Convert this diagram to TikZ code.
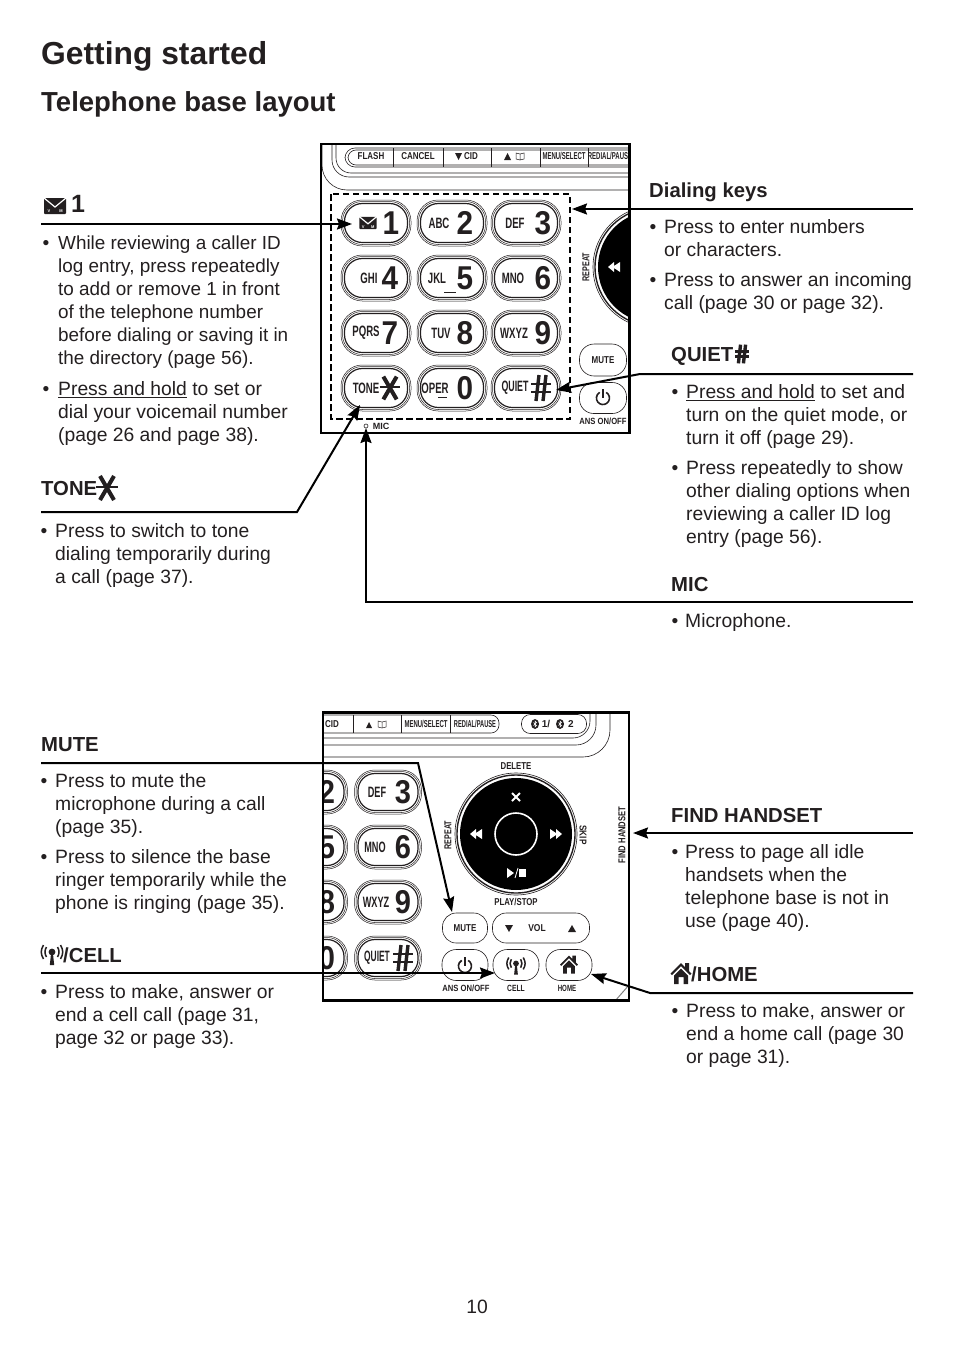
\documentclass[tikz,border=0pt]{standalone}
\usepackage{fontspec}
\usepackage{graphicx}
\setmainfont{Liberation Sans}
\usetikzlibrary{arrows.meta}
\definecolor{inkblack}{HTML}{231F20}
\newcommand{\cnd}[2][.8]{\scalebox{#1}[1]{#2}}
% three outlines of one button
\newcommand{\pillbtn}[5]{%
  \node[pill={#4}{#5}{.5}] (#1a) at (#2,#3) {};
  \node[pill={#4-3}{#5-3}{.5}] (#1b) at (#2,#3) {};
  \node[pill={#4-7}{#5-7}{1.2}] (#1c) at (#2,#3) {};
}
\tikzset{
  pill/.style n args={3}{draw=inkblack,line width=#3,inner sep=0,minimum width=#1,minimum height=#2,rounded corners=.46*(#2)},
  btn/.style n args={2}{draw=inkblack,line width=.6,inner sep=0,minimum width=#1,minimum height=#2,rounded corners=.46*(#2)},
  txt/.style={anchor=north west,inner sep=0,align=left,text=inkblack,font=\fontsize{19.3}{23}\selectfont},
  bul/.style={anchor=north west,inner sep=0,yshift=-1.5pt,text=inkblack,font=\fontsize{19.3}{23}\selectfont},
  head/.style={anchor=base west,inner sep=0,text=inkblack,font=\fontsize{20.3}{23}\bfseries\selectfont},
  lab/.style={inner sep=0,text=inkblack,font=\fontsize{10}{10}\bfseries\selectfont},
  tinylab/.style={inner sep=0,text=inkblack,font=\fontsize{9}{9}\bfseries\selectfont},
  smalltxt/.style={inner sep=0,text=inkblack,font=\fontsize{15}{15}\bfseries\selectfont},
  bigdigit/.style={inner sep=0,text=inkblack,font=\fontsize{33}{33}\bfseries\selectfont},
  callout/.style={draw=black,line width=2,-{Stealth[length=15,width=11,inset=2]}},
  frame/.style={draw=black,line width=2.6},
  thinline/.style={draw=inkblack,line width=.6},
  envpic/.pic={
    \fill[inkblack,rounded corners=1] (-11,-8) rectangle (11,8);
    \draw[white,line width=1.2] (-11,-8) -- (0,1) -- (11,-8);
    \node[inner sep=0,text=white,font=\fontsize{4}{4}\bfseries\selectfont] (envv) at (-6,5) {V};
    \node[inner sep=0,text=white,font=\fontsize{4}{4}\bfseries\selectfont] (envm) at (6,5) {M};
  },
  starpic/.pic={
    \draw[inkblack,line width=4] (-7,-12) -- (7,12);
    \draw[inkblack,line width=4] (7,-12) -- (-7,12);
    \draw[inkblack,line width=1.8] (-11,-1) -- (11,-1);
  },
  hashpic/.pic={
    \draw[inkblack,line width=3.4] (-2,-13) -- (-5,13);
    \draw[inkblack,line width=3.4] (5,-13) -- (2,13);
    \draw[inkblack,line width=2.8] (-10,-4) -- (10,-4);
    \draw[inkblack,line width=2.8] (-10,4) -- (10,4);
  },
  towerpic/.pic={
    \fill[inkblack] (0,-3) circle (3.4);
    \fill[inkblack] (-.9,-2) -- (.9,-2) -- (2.2,10) -- (-2.2,10) -- cycle;
    \draw[inkblack,line width=1.5] (-5.5,-8) .. controls (-7.5,-5) and (-7.5,-1) .. (-5.5,2);
    \draw[inkblack,line width=1.5] (5.5,-8) .. controls (7.5,-5) and (7.5,-1) .. (5.5,2);
    \draw[inkblack,line width=1.5] (-8.5,-10) .. controls (-11.5,-5) and (-11.5,-1) .. (-8.5,4);
    \draw[inkblack,line width=1.5] (8.5,-10) .. controls (11.5,-5) and (11.5,-1) .. (8.5,4);
  },
  housepic/.pic={
    \fill[inkblack] (-10.5,-.5) -- (0,-11) -- (4,-7) -- (4,-11) -- (8,-11) -- (8,-3) -- (10.5,-.5) -- (9,1) -- (0,-8) -- (-9,1) -- cycle;
    \fill[inkblack] (-7,1.5) -- (0,-5.5) -- (7,1.5) -- (7,10) -- (2.5,10) -- (2.5,3) -- (-2.5,3) -- (-2.5,10) -- (-7,10) -- cycle;
  },
  powerpic/.pic={
    \draw[inkblack,line width=1.6] (3.2,-5.6) arc (-60:240:6.5);
    \draw[inkblack,line width=1.8] (0,-9) -- (0,0);
  },
  bookpic/.pic={
    \draw[inkblack,line width=.5] (-4,-3) -- (0,-2) -- (4,-3) -- (4,3) -- (0,4) -- (-4,3) -- cycle (0,-2) -- (0,4);
  },
  discpic/.pic={
    \draw[inkblack,line width=.6] (0,0) circle (61);
    \draw[inkblack,line width=1.4] (0,0) circle (59);
    \fill[black] (0,0) circle (56);
    \draw[white,line width=1.6] (0,0) circle (21);
    \fill[white] (-46,0) -- (-40,-5) -- (-40,-1) -- (-34,-5) -- (-34,5) -- (-40,1) -- (-40,5) -- cycle;
    \fill[white] (46,0) -- (40,-5) -- (40,-1) -- (34,-5) -- (34,5) -- (40,1) -- (40,5) -- cycle;
    \draw[white,line width=1.8] (-4,-41) -- (4,-33) (4,-41) -- (-4,-33);
    \fill[white] (-9,34) -- (-2,39) -- (-9,44) -- cycle;
    \draw[white,line width=.8] (-1,44) -- (2,34);
    \fill[white] (3,35) rectangle (10,43);
  },
  btmark/.pic={
    \fill[inkblack] (0,0) circle (4 and 5);
    \draw[white,line width=.5] (-1.5,-1.5) -- (1.5,1.5) -- (0,3) -- (0,-3) -- (1.5,-1.5) -- (-1.5,1.5);
  },
}
\newcommand{\bulstrut}{\vphantom{P}}
\begin{document}
\begin{tikzpicture}[x=1pt,y=-1pt]
  \useasboundingbox (0,0) rectangle (954,1354);
  % titles
  \node[anchor=base west,inner sep=0,text=inkblack,font=\fontsize{31.8}{36}\bfseries\selectfont] (title) at (41,64) {Getting started};
  \node[anchor=base west,inner sep=0,text=inkblack,font=\fontsize{27.5}{30}\bfseries\selectfont] (subtitle) at (41,111) {Telephone base layout};
  \node[anchor=base,inner sep=0,text=inkblack,font=\fontsize{19.3}{23}\selectfont] (pageno) at (477,1313) {10};

  % upper photo
  \begin{scope}
    \clip (321,144) rectangle (630,434);
    % housing
    \draw[thinline,rounded corners=25] (322,140) -- (322,190) -- (640,190);
    \draw[thinline,rounded corners=17] (332,140) -- (332,177) -- (640,177);
    \draw[thinline,rounded corners=15] (336,140) -- (336,173) -- (640,173);
    \draw[thinline,rounded corners=10] (640,148) -- (345,148) -- (345,167) -- (640,167);
    \draw[thinline,rounded corners=8] (640,150) -- (348,150) -- (348,165) -- (640,165);
    \foreach \sx in {393,443,491,540,588}
      \draw[thinline] (\sx,148) -- (\sx,167);
    \node[lab] (lflash) at (371,156) {\cnd{FLASH}};
    \node[lab] (lcancel) at (418,156) {\cnd{CANCEL}};
    \fill[inkblack] (455,153) -- (462,153) -- (458.5,160) -- cycle;
    \node[lab] (lcid) at (471,156) {\cnd{CID}};
    \fill[inkblack] (504,160) -- (511,160) -- (507.5,153) -- cycle;
    \pic at (520,156) {bookpic};
    \node[lab] (lmenu) at (564,156) {\cnd[.6]{MENU/SELECT}};
    \node[lab] (lredial) at (610,156) {\cnd[.6]{REDIAL/PAUSE}};
    % disc
    \pic at (654,267) {discpic};
    \node[lab,rotate=90] (lrepeat) at (586,267) {\cnd[.72]{REPEAT}};
    % keypad
    \foreach \nm/\x/\y/\sm/\sx/\dg/\dx in {
      1/376/223/{}/0/1/15, 2/452/223/ABC/-13/2/13, 3/526/223/DEF/-11/3/17,
      4/376/278/GHI/-7/4/14, 5/452/278/JKL/-15/5/13, 6/526/278/MNO/-13/6/17,
      7/376/333/PQRS/-10/7/14, 8/452/333/TUV/-11/8/13, 9/526/333/WXYZ/-12/9/17,
      s/376/388/TONE/-10/{}/0, 0/452/388/OPER/-17/0/13, h/526/388/\cnd[.92]{QUIET}/-11/{}/0} {
      \pillbtn{key\nm}{\x}{\y}{70}{46}
      \node[smalltxt] (small\nm) at (\x+\sx,\y) {\cnd[.64]{\sm}};
      \node[bigdigit] (digit\nm) at (\x+\dx,\y) {\cnd[.9]{\dg}};
    }
    \pic[scale=.78] at (368,223) {envpic};
    \pic[scale=.95] at (390,388) {starpic};
    \pic at (541,388) {hashpic};
    \draw[thinline] (444,292) -- (456,292);
    \draw[thinline] (438,397) -- (447,397);
    % dashed outline
    \draw[black,line width=2.2,dash pattern=on 6.5pt off 3.5pt] (331,194) rectangle (570,419);
    % small buttons
    \node[btn={47}{32}] (tmute) at (603,360) {};
    \node[lab] (ltmute) at (603,360) {\cnd{MUTE}};
    \node[btn={47}{31}] (tpower) at (603,398) {};
    \pic at (603,398) {powerpic};
    \node[tinylab] (ltans) at (603,421) {\cnd[.85]{ANS ON/OFF}};
    \draw[thinline] (366,426) circle (2);
    \node[tinylab] (ltmic) at (381,426) {MIC};
  \end{scope}
  \draw[frame] (321,144) rectangle (629.5,433);

  % lower photo
  \begin{scope}
    \clip (323,712) rectangle (630,1001);
    \draw[thinline,rounded corners=17] (320,738) -- (590,738) -- (590,705);
    \draw[thinline,rounded corners=20] (320,745) -- (596,745) -- (596,705);
    \draw[thinline,rounded corners=27] (320,757) -- (610,757) -- (610,705);
    \draw[thinline,rounded corners=8] (320,715) -- (499,715) -- (499,733) -- (320,733);
    \foreach \sx in {353,401,450}
      \draw[thinline] (\sx,715) -- (\sx,733);
    \node[lab] (blcid) at (332,724) {\cnd{CID}};
    \fill[inkblack] (366,728) -- (372,728) -- (369,722) -- cycle;
    \pic at (382,724) {bookpic};
    \node[lab] (blmenu) at (426,724) {\cnd[.6]{MENU/SELECT}};
    \node[lab] (blredial) at (475,724) {\cnd[.57]{REDIAL/PAUSE}};
    \node[btn={65}{19}] (btpill) at (554,724) {};
    \pic at (535,724) {btmark};
    \node[lab] (bt1) at (546,724) {1/};
    \pic at (560,724) {btmark};
    \node[lab] (bt2) at (571,724) {2};
    % disc
    \pic at (516,834) {discpic};
    \node[lab] (ldelete) at (516,766) {\cnd[.78]{DELETE}};
    \node[lab,rotate=90] (lbrepeat) at (448,835) {\cnd[.72]{REPEAT}};
    \node[lab,rotate=-90] (lskip) at (583,835) {\cnd[.82]{SKIP}};
    \node[lab,rotate=90] (lfind) at (622,835) {\cnd[.76]{FIND HANDSET}};
    \node[lab] (lplay) at (516,902) {\cnd[.78]{PLAY/STOP}};
    % keypad
    \foreach \nm/\x/\y/\sm/\sx/\dg/\dx in {
      b2/314/792/ABC/-13/2/13, b3/388/792/DEF/-11/3/15,
      b5/314/847/JKL/-15/5/13, b6/388/847/MNO/-13/6/15,
      b8/314/902/TUV/-11/8/13, b9/388/902/WXYZ/-12/9/15,
      b0/314/958/OPER/-17/0/13, bh/388/958/\cnd[.92]{QUIET}/-11/{}/0} {
      \pillbtn{key\nm}{\x}{\y}{67}{44}
      \node[smalltxt] (small\nm) at (\x+\sx,\y) {\cnd[.61]{\sm}};
      \node[bigdigit] (digit\nm) at (\x+\dx,\y) {\cnd[.88]{\dg}};
    }
    \pic at (403,958) {hashpic};
    % small buttons
    \node[btn={45}{30}] (bmute) at (465,928) {};
    \node[lab] (lbmute) at (465,928) {\cnd{MUTE}};
    \node[btn={97}{30}] (bvol) at (541,928) {};
    \fill[inkblack] (505,925) -- (513,925) -- (509,932) -- cycle;
    \node[lab] (lvol) at (537,928) {\cnd[.85]{VOL}};
    \fill[inkblack] (568,932) -- (576,932) -- (572,925) -- cycle;
    \node[btn={46}{31}] (bpower) at (465,965) {};
    \pic at (465,966) {powerpic};
    \node[btn={46}{31}] (bcell) at (516,965) {};
    \pic[scale=.85] at (516,966) {towerpic};
    \node[btn={46}{31}] (bhome) at (569,965) {};
    \pic[scale=.85] at (569,965) {housepic};
    \node[tinylab] (lbans) at (466,988) {\cnd[.85]{ANS ON/OFF}};
    \node[tinylab] (lbcell) at (516,988) {\cnd[.75]{CELL}};
    \node[tinylab] (lbhome) at (567,988) {\cnd[.68]{HOME}};
    \draw[gray,line width=1] (615,1001) -- (629,985);
  \end{scope}
  \draw[frame] (323,712.5) rectangle (629,1000.5);

  % left column, upper
  \pic at (55,206) {envpic};
  \node[head,font=\fontsize{25}{25}\bfseries\selectfont] (hone) at (71,212) {1};
  \coordinate (oneA) at (41,224);
  \coordinate (oneB) at (352,224);
  \draw[callout] (oneA) -- (oneB);
  \node[bul] (b1) at (42.5,235) {\bulstrut•};
  \node[txt,font=\fontsize{18.9}{23}\selectfont] (t1) at (58,236) {While reviewing a caller ID\\log entry, press repeatedly\\to add or remove 1 in front\\of the telephone number\\before dialing or saving it in\\the directory (page 56).};
  \node[bul] (b2) at (42.5,381) {\bulstrut•};
  \node[txt] (t2) at (58,381) {\underline{Press and hold} to set or\\dial your voicemail number\\(page 26 and page 38).};

  \node[head] (htone) at (41,495) {TONE};
  \pic at (107,488) {starpic};
  \coordinate (toneA) at (41,512);
  \coordinate (toneB) at (297,512);
  \coordinate (toneC) at (360,405);
  \draw[callout] (toneA) -- (toneB) -- (toneC);
  \node[bul] (b3) at (40.5,523) {\bulstrut•};
  \node[txt] (t3) at (55,523) {Press to switch to tone\\dialing temporarily during\\a call (page 37).};

  % right column, upper
  \node[head] (hdial) at (649,197) {Dialing keys};
  \coordinate (dialA) at (913,209);
  \coordinate (dialB) at (572,209);
  \draw[callout] (dialA) -- (dialB);
  \node[bul] (b4) at (649.5,219) {\bulstrut•};
  \node[txt] (t4) at (664,219) {Press to enter numbers\\or characters.};
  \node[bul] (b5) at (649.5,272) {\bulstrut•};
  \node[txt] (t5) at (664,272) {Press to answer an incoming\\call (page 30 or page 32).};

  \node[head] (hquiet) at (671,361) {QUIET};
  \pic[scale=.72] at (742,354) {hashpic};
  \coordinate (quietA) at (913,374);
  \coordinate (quietB) at (640,374);
  \coordinate (quietC) at (556,390);
  \draw[callout] (quietA) -- (quietB) -- (quietC);
  \node[bul] (b6) at (671.5,384) {\bulstrut•};
  \node[txt] (t6) at (686,384) {\underline{Press and hold} to set and\\turn on the quiet mode, or\\turn it off (page 29).};
  \node[bul] (b7) at (671.5,460) {\bulstrut•};
  \node[txt] (t7) at (686,460) {Press repeatedly to show\\other dialing options when\\reviewing a caller ID log\\entry (page 56).};

  \node[head] (hmic) at (671,591) {MIC};
  \coordinate (micA) at (913,602);
  \coordinate (micB) at (366,602);
  \coordinate (micC) at (366,428);
  \draw[callout] (micA) -- (micB) -- (micC);
  \node[bul] (b8) at (671.5,613) {\bulstrut•};
  \node[txt] (t8) at (685,613) {Microphone.};

  % left column, lower
  \node[head] (hmute) at (41,751) {MUTE};
  \coordinate (muteA) at (41,763);
  \coordinate (muteB) at (418,763);
  \coordinate (muteC) at (452,912);
  \draw[callout] (muteA) -- (muteB) -- (muteC);
  \node[bul] (b9) at (40.5,773) {\bulstrut•};
  \node[txt] (t9) at (55,773) {Press to mute the\\microphone during a call\\(page 35).};
  \node[bul] (b10) at (40.5,849) {\bulstrut•};
  \node[txt] (t10) at (55,849) {Press to silence the base\\ringer temporarily while the\\phone is ringing (page 35).};

  \pic at (52,955) {towerpic};
  \node[head] (hcell) at (63,962) {/CELL};
  \coordinate (cellA) at (41,973);
  \coordinate (cellB) at (495,973);
  \draw[callout] (cellA) -- (cellB);
  \node[bul] (b11) at (40.5,984) {\bulstrut•};
  \node[txt] (t11) at (55,984) {Press to make, answer or\\end a cell call (page 31,\\page 32 or page 33).};

  % right column, lower
  \node[head] (hfind) at (671,822) {FIND HANDSET};
  \coordinate (findA) at (913,833);
  \coordinate (findB) at (633,833);
  \draw[callout] (findA) -- (findB);
  \node[bul] (b12) at (671.5,844) {\bulstrut•};
  \node[txt] (t12) at (685,844) {Press to page all idle\\handsets when the\\telephone base is not in\\use (page 40).};

  \pic at (681,974) {housepic};
  \node[head] (hhome) at (691,981) {/HOME};
  \coordinate (homeA) at (913,993);
  \coordinate (homeB) at (650,993);
  \coordinate (homeC) at (591,974);
  \draw[callout] (homeA) -- (homeB) -- (homeC);
  \node[bul] (b13) at (671.5,1003) {\bulstrut•};
  \node[txt] (t13) at (686,1003) {Press to make, answer or\\end a home call (page 30\\or page 31).};
\end{tikzpicture}
\end{document}
